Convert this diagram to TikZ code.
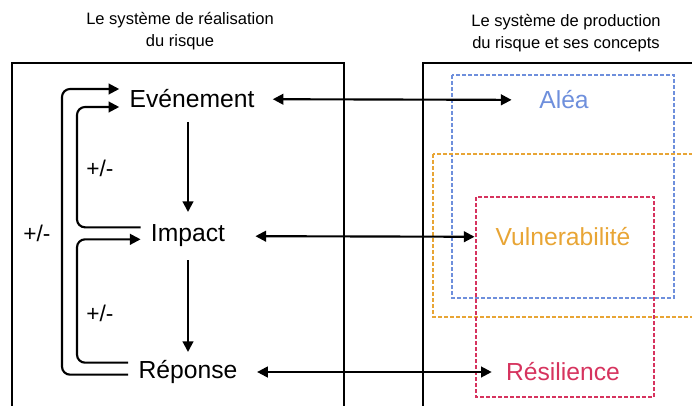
\documentclass[tikz,border=0pt]{standalone}
\usepackage{fontspec}
\setmainfont{Liberation Sans}
\usetikzlibrary{arrows.meta}

\definecolor{aleablue}{HTML}{6E8FDC}
\definecolor{vulnorange}{HTML}{E8A535}
\definecolor{resilred}{HTML}{D6335E}

\begin{document}
\begin{tikzpicture}[x=0.75pt,y=-0.75pt,>={Triangle[length=8pt,width=8pt]},line width=1.6pt]
\tikzset{concept/.style = {font=\fontsize{18.5}{20}\selectfont, inner sep=7pt},
         title/.style = {font=\fontsize{12.4}{16}\selectfont, align=center},
         sign/.style = {font=\fontsize{17}{20}\selectfont},
         frame/.style = {line width=1.6pt},
         zone/.style = {line width=1.5pt, dash pattern=on 3pt off 1.5pt}}

\clip (0,0) rectangle (692,406);

%titles
\node[title] (ttlleft) at (180,31) {Le système de réalisation\\du risque};
\node[title] (ttlright) at (566,33) {Le système de production\\du risque et ses concepts};

%frames
\draw[frame] (12,420) -- (12,63) -- (344,63) -- (344,420);
\draw[frame] (423,420) -- (423,63) -- (700,63);

%dashed zones
\draw[zone,aleablue] (452,75) rectangle (674,298);
\draw[zone,vulnorange] (433,154) rectangle (700,317);
\draw[zone,resilred] (476,197) rectangle (654,397);

%realisation
\node[concept] (event) at (192,99) {Evénement};
\node[concept] (impact) at (188,236) {Impact};
\node[concept] (resp) at (188,372) {Réponse};

%production
\node[concept,text=aleablue] (alea) at (564,100) {Aléa};
\node[concept,text=vulnorange] (vuln) at (563,237) {Vulnerabilité};
\node[concept,text=resilred] (resil) at (563,372) {Résilience};

%rails of the loops
\coordinate (railin) at (77,0);
\coordinate (railout) at (62,0);

%chain
\draw[->] (impact |- 0,122) -- (impact |- 0,212);
\draw[->] (impact |- 0,260) -- (resp |- 0,352);

%feedback
\draw[->,rounded corners=6pt] ([yshift=6.5pt]impact.west) -| ([yshift=-6pt]railin |- event.west) -- ([yshift=-6pt]event.west);
\draw[->,rounded corners=6pt] ([yshift=7pt]resp.west) -| ([yshift=-2.5pt]railin |- impact.west) -- ([yshift=-2.5pt]impact.west);
\draw[->,rounded corners=6pt] ([yshift=-2pt]resp.west) -| ([yshift=7.5pt]railout |- event.west) -- ([yshift=7.5pt]event.west);
\node[sign] (pmup) at (100,168) {+/-};
\node[sign] (pmlow) at (100,313) {+/-};
\node[sign] (pmout) at (37,233) {+/-};

%links
\draw[<->,shorten <=6pt,shorten >=13pt] (event) -- (alea);
\draw[<->,shorten <=15pt,shorten >=8pt] (impact) -- (vuln);
\draw[<->,shorten <=7pt,shorten >=3pt] (resp) -- (resil);

\end{tikzpicture}
\end{document}
